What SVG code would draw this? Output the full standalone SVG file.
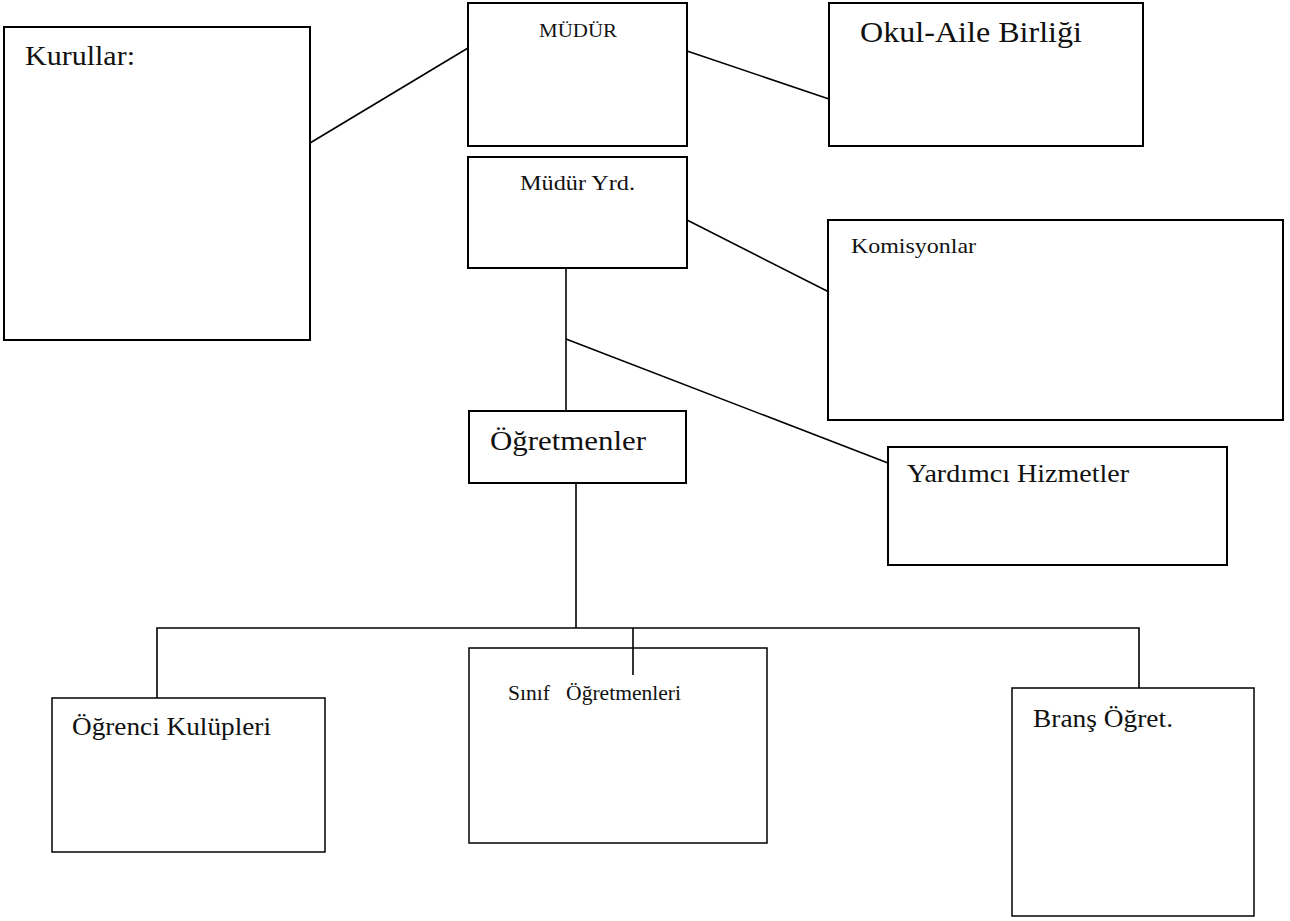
<svg xmlns="http://www.w3.org/2000/svg" width="1290" height="921" viewBox="0 0 1290 921">
<style>
  .box { fill: #ffffff; stroke: #000000; stroke-width: 2; }
  .thin { fill: #ffffff; stroke: #000000; stroke-width: 1.5; }
  .lbl { font-family: "Liberation Serif", "DejaVu Serif", serif; fill: #111111; white-space: pre; }
  .conn line, .conn polyline { stroke: #000000; stroke-width: 1.6; fill: none; }
</style>
<rect x="0" y="0" width="1290" height="921" fill="#ffffff"/>
<g id="kurullar">
  <rect class="box" x="4" y="27" width="306" height="313"/>
  <text class="lbl" x="25" y="65" font-size="28" textLength="110" lengthAdjust="spacingAndGlyphs">Kurullar:</text>
</g>
<g id="mudur">
  <rect class="box" x="468" y="3" width="219" height="143"/>
  <text class="lbl" x="539" y="37" font-size="19" textLength="78" lengthAdjust="spacingAndGlyphs">MÜDÜR</text>
</g>
<g id="okul-aile">
  <rect class="box" x="829" y="3" width="314" height="143"/>
  <text class="lbl" x="860" y="42" font-size="29" textLength="222" lengthAdjust="spacingAndGlyphs">Okul-Aile Birliği</text>
</g>
<g id="mudur-yrd">
  <rect class="box" x="468" y="157" width="219" height="111"/>
  <text class="lbl" x="520" y="190" font-size="21" textLength="115" lengthAdjust="spacingAndGlyphs">Müdür Yrd.</text>
</g>
<g id="komisyonlar">
  <rect class="box" x="828" y="220" width="455" height="200"/>
  <text class="lbl" x="851" y="253" font-size="22" textLength="125" lengthAdjust="spacingAndGlyphs">Komisyonlar</text>
</g>
<g id="ogretmenler">
  <rect class="box" x="469" y="411" width="217" height="72"/>
  <text class="lbl" x="490" y="450" font-size="28" textLength="156" lengthAdjust="spacingAndGlyphs">Öğretmenler</text>
</g>
<g id="yardimci">
  <rect class="box" x="888" y="447" width="339" height="118"/>
  <text class="lbl" x="907" y="482" font-size="25" textLength="222" lengthAdjust="spacingAndGlyphs">Yardımcı Hizmetler</text>
</g>
<g id="ogrenci-kulupleri">
  <rect class="thin" x="52" y="698" width="273" height="154"/>
  <text class="lbl" x="72" y="735" font-size="26" textLength="199" lengthAdjust="spacingAndGlyphs">Öğrenci Kulüpleri</text>
</g>
<g id="sinif-ogretmenleri">
  <rect class="thin" x="469" y="648" width="298" height="195"/>
  <text class="lbl" x="508" y="700" font-size="20" textLength="173" lengthAdjust="spacingAndGlyphs">Sınıf   Öğretmenleri</text>
</g>
<g id="brans">
  <rect class="thin" x="1012" y="688" width="242" height="228"/>
  <text class="lbl" x="1033" y="727" font-size="25" textLength="140" lengthAdjust="spacingAndGlyphs">Branş Öğret.</text>
</g>
<g id="connectors" class="conn">
  <line x1="310" y1="143" x2="468" y2="48"/>
  <line x1="687" y1="51" x2="829" y2="99"/>
  <line x1="687" y1="220" x2="829" y2="292"/>
  <line x1="566" y1="268" x2="566" y2="411"/>
  <line x1="566" y1="339" x2="888" y2="463"/>
  <line x1="576" y1="483" x2="576" y2="628"/>
  <polyline points="157,698 157,628 1139,628 1139,688"/>
  <line x1="633" y1="628" x2="633" y2="675"/>
</g>
</svg>
